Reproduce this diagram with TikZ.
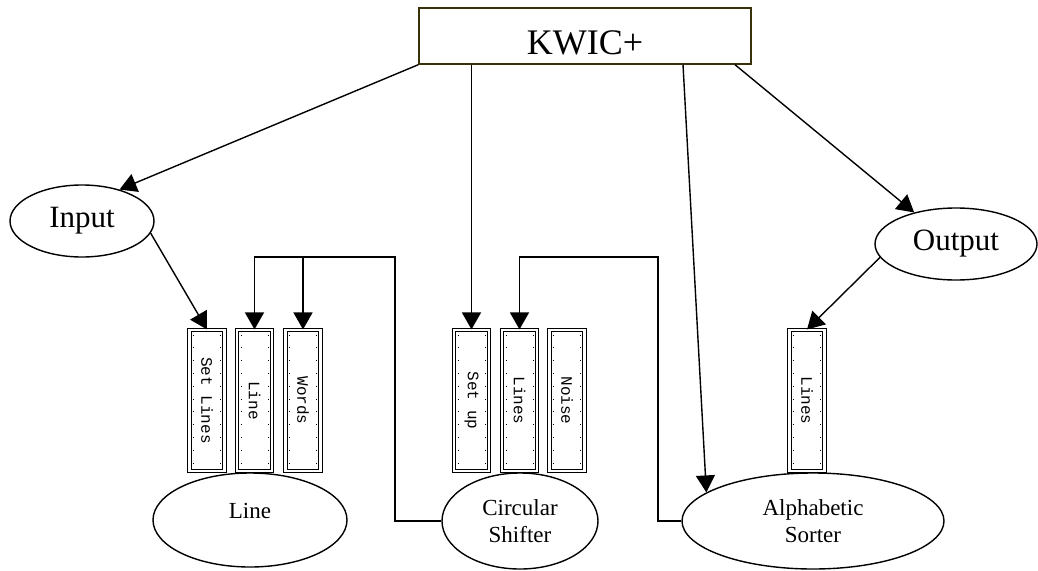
\documentclass[tikz,border=0pt]{standalone}
\usepackage{fontspec}
\setmainfont{Liberation Serif}
\setmonofont{Liberation Mono}
\usetikzlibrary{shapes.geometric,arrows.meta,calc}
\definecolor{kwicline}{RGB}{55,50,10}

\begin{document}
\begin{tikzpicture}[x=1pt, y=-1pt,
    arr/.style={-{Triangle[length=17pt,width=19pt]}, line width=1.4pt},
    blob/.style={draw, ellipse, line width=1.4pt, inner sep=0pt},
    modbox/.style={draw, line width=1.1pt, double, double distance=2.6pt,
      minimum width=35pt, minimum height=141pt, inner sep=0pt,
      font=\fontsize{16}{16}\ttfamily,
      path picture={\foreach \s in {-1,1}
        \draw[line width=0.7pt, dash pattern=on 0.8pt off 12pt]
          ($(path picture bounding box.center)+(\s*13.5,-66)$) -- ++(0,132);}}]

    \useasboundingbox (0,0) rectangle (1038,570);

    % --- Top module ---
    \node[draw=kwicline, line width=1.4pt, minimum width=332pt, minimum height=56pt,
      inner sep=0pt, text height=36pt, text depth=0pt,
      font=\fontsize{36}{36}\selectfont] (kwic) at (585,36) {KWIC+};

    % --- Input / Output ---
    \node[blob, minimum width=144pt, minimum height=72pt,
      font=\fontsize{31}{31}\selectfont] (input) at (82,221) {Input};
    \node[blob, minimum width=162pt, minimum height=72pt,
      font=\fontsize{31}{31}\selectfont] (output) at (956,244) {Output};

    % --- Lower modules ---
    \node[blob, minimum width=194pt, minimum height=94pt, text depth=18pt,
      font=\fontsize{23}{27}\selectfont] (line) at (250,520) {Line};
    \node[blob, minimum width=156pt, minimum height=96pt, align=center,
      font=\fontsize{23}{27}\selectfont] (shifter) at (520,521) {Circular\\Shifter};
    \node[blob, minimum width=262pt, minimum height=96pt, align=center,
      font=\fontsize{23}{27}\selectfont] (sorter) at (813,521) {Alphabetic\\Sorter};

    % Access routines of each module
    \node[modbox] (setlines) at (207,400.5) {\rotatebox{-90}{Set Lines}};
    \node[modbox] (lineb) at (254.5,400.5) {\rotatebox{-90}{Line}};
    \node[modbox] (wordsb) at (303,400.5) {\rotatebox{-90}{Words}};

    \node[modbox] (setup) at (471.5,400.5) {\rotatebox{-90}{Set up}};
    \node[modbox] (linesb) at (519.5,400.5) {\rotatebox{-90}{Lines}};
    \node[modbox] (noise) at (567,400.5) {\rotatebox{-90}{Noise}};

    \node[modbox] (linesc) at (807,400.5) {\rotatebox{-90}{Lines}};

    % --- Calls ---
    \draw[arr] (kwic.south west) -- (input.40);
    \draw[arr] (kwic.south -| setup.north) -- (setup.north);
    \draw[arr] ([xshift=98pt]kwic.south) -- (sorter.165);
    \draw[arr] ([xshift=150pt]kwic.south) -- (output.143);
    \draw[arr] (input.-10) -- (setlines.north);
    \draw[arr] (output.190) -- (linesc.north);

    \coordinate (cstop) at (395,257);
    \coordinate (astop) at (658,257);
    \draw[arr] (shifter.west) -| (cstop) -| (lineb.north);
    \draw[arr] (wordsb.north |- cstop) -- (wordsb.north);
    \draw[arr] (sorter.west) -| (astop) -| (linesb.north);

  \end{tikzpicture}
\end{document}
